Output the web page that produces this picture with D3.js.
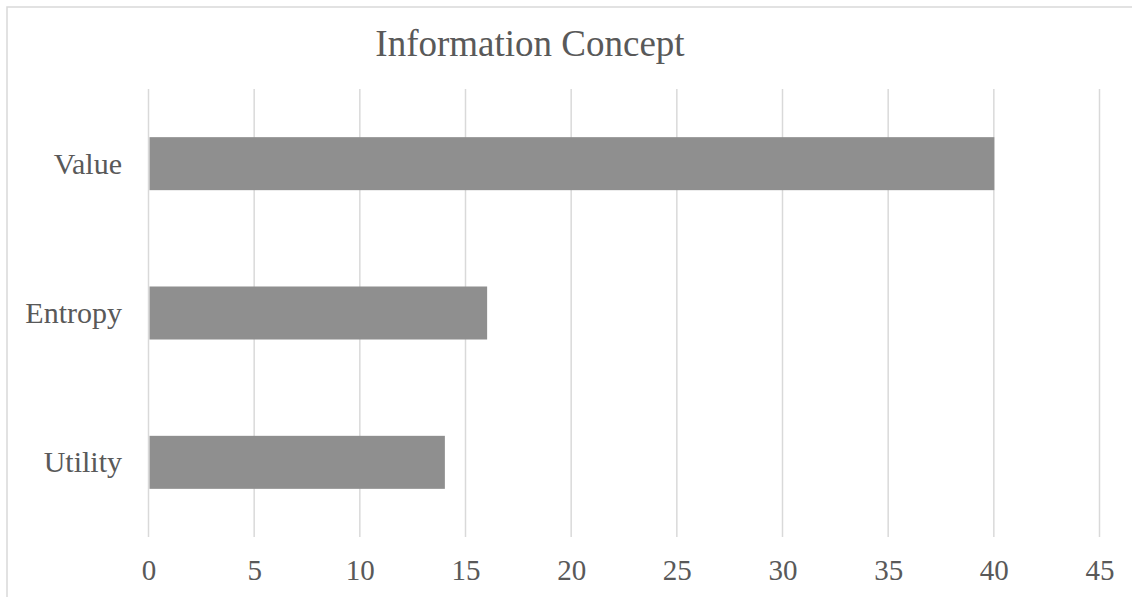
<!DOCTYPE html>
<html>
<head>
<meta charset="utf-8">
<script src="https://cdn.jsdelivr.net/npm/d3@7"></script>
<style>
  html, body { margin: 0; padding: 0; background: #fff; }
  svg { display: block; }
  text { font-family: "Liberation Serif", "Times New Roman", serif; fill: #595959; }
</style>
</head>
<body>
<svg id="chart" width="1132" height="597"></svg>
<script>
const categories = ["Value", "Entropy", "Utility"];
const values = [40, 16, 14];
const tickValues = [0, 5, 10, 15, 20, 25, 30, 35, 40, 45];
const title = "Information Concept";

const W = 1132, H = 597;
const plot = { left: 148.5, right: 1099.5, top: 89, bottom: 537 };

const svg = d3.select("#chart");

// Chart area frame
svg.append("rect")
  .attr("x", 7).attr("y", 7)
  .attr("width", W + 20).attr("height", H + 20)
  .attr("fill", "#fff")
  .attr("stroke", "#d9d9d9")
  .attr("stroke-width", 1.5);

const x = d3.scaleLinear().domain([0, 45]).range([plot.left, plot.right]);
const y = d3.scaleBand()
  .domain(categories)
  .range([plot.top, plot.bottom])
  .paddingInner(0.645)
  .paddingOuter(0.3225);

// Vertical gridlines
svg.append("g")
  .selectAll("line")
  .data(tickValues)
  .join("line")
  .attr("x1", d => x(d)).attr("x2", d => x(d))
  .attr("y1", plot.top).attr("y2", plot.bottom)
  .attr("stroke", "#d9d9d9")
  .attr("stroke-width", 1.5);

// Bars
svg.append("g")
  .selectAll("rect")
  .data(categories.map((c, i) => ({ c, v: values[i] })))
  .join("rect")
  .attr("x", x(0) + 1)
  .attr("y", d => y(d.c))
  .attr("width", d => x(d.v) - x(0) - 0.5)
  .attr("height", y.bandwidth())
  .attr("fill", "#8f8f8f");

// Bottom axis labels
const xAxis = d3.axisBottom(x).tickValues(tickValues).tickSize(0).tickPadding(0);
const gx = svg.append("g")
  .attr("transform", `translate(0,${plot.bottom})`)
  .call(xAxis);
gx.select(".domain").remove();
gx.selectAll("text")
  .attr("dy", null)
  .attr("y", 43)
  .style("font-family", "'Liberation Serif', serif")
  .style("font-size", "29px")
  .style("fill", "#595959");

// Category labels
const yAxis = d3.axisLeft(y).tickSize(0).tickPadding(0);
const gy = svg.append("g")
  .attr("transform", `translate(122,0)`)
  .call(yAxis);
gy.select(".domain").remove();
gy.selectAll("text")
  .attr("dy", null)
  .attr("y", 10)
  .attr("x", 0)
  .style("font-family", "'Liberation Serif', serif")
  .style("font-size", "30px")
  .style("fill", "#595959");

// Title
svg.append("text")
  .attr("x", 530)
  .attr("y", 56)
  .attr("text-anchor", "middle")
  .style("font-size", "37px")
  .text(title);
</script>
</body>
</html>
